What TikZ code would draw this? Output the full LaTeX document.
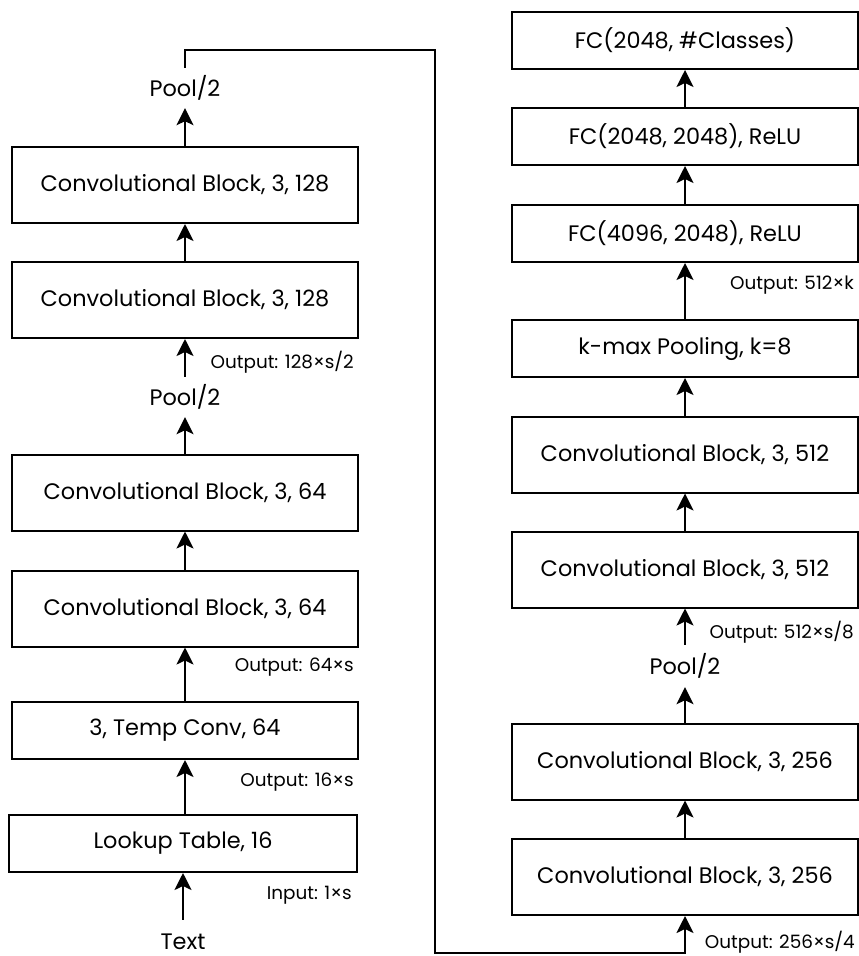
\documentclass[tikz,border=0pt]{standalone}
\usepackage{fontspec}
\setmainfont{Poppins}
\usetikzlibrary{arrows.meta}
\tikzset{
  blk/.style={draw, line width=2pt, minimum width=346pt, inner sep=0pt, font=\fontsize{22.4}{26}\selectfont},
  tall/.style={blk, minimum height=76pt},
  short/.style={blk, minimum height=57pt},
  pool/.style={inner sep=0pt, font=\fontsize{22.4}{26}\selectfont},
  lab/.style={inner sep=0pt, anchor=east, font=\fontsize{18.4}{21}\selectfont},
  arr/.style={line width=2pt, -{Stealth[length=17pt,width=17pt,inset=4pt]}}
}
\begin{document}
\begin{tikzpicture}[x=1pt,y=-1pt]
\useasboundingbox (0,0) rectangle (859,956);
% left column
\node[tall]  (L1) at (185,185)   {Convolutional Block, 3, 128};
\node[tall]  (L2) at (185,300)   {Convolutional Block, 3, 128};
\node[tall]  (L3) at (185,492.5) {Convolutional Block, 3, 64};
\node[tall]  (L4) at (185,608.5) {Convolutional Block, 3, 64};
\node[short] (L5) at (185,730.5) {3, Temp Conv, 64};
\node[short, minimum width=348pt] (L6) at (183,843.5) {Lookup Table, 16};
\node[pool, minimum height=40pt] (P1) at (185,88) {Pool/2};
\node[pool, minimum height=40pt] (P2) at (185,397) {Pool/2};
\node[pool, minimum height=44pt] (T) at (183,942) {Text};
% right column
\node[short] (R1) at (685,40.5)  {FC(2048, \#Classes)};
\node[short] (R2) at (685,136.5) {FC(2048, 2048), ReLU};
\node[short] (R3) at (685,233.5) {FC(4096, 2048), ReLU};
\node[short] (R4) at (685,348.5) {k-max Pooling, k=8};
\node[tall]  (R5) at (685,454.5) {Convolutional Block, 3, 512};
\node[tall]  (R6) at (685,569.5) {Convolutional Block, 3, 512};
\node[pool, minimum height=42pt] (P3) at (685,666) {Pool/2};
\node[tall]  (R7) at (685,761.5) {Convolutional Block, 3, 256};
\node[tall]  (R8) at (685,877)   {Convolutional Block, 3, 256};
% labels
\node[lab] (o1) at (354,362) {Output: 128×s/2};
\node[lab] (o2) at (354,667) {Output: 64×s};
\node[lab] (o3) at (354,782) {Output: 16×s};
\node[lab] (o4) at (352,895) {Input: 1×s};
\node[lab] (o5) at (854,285) {Output: 512×k};
\node[lab] (o6) at (854,632) {Output: 512×s/8};
\node[lab] (o7) at (855,942) {Output: 256×s/4};
% connectors left
\draw[arr] (T.north) -- (L6.south -| T.north);
\draw[arr] (L6.north -| L5.south) -- (L5.south);
\draw[arr] (L5.north) -- (L4.south);
\draw[arr] (L4.north) -- (L3.south);
\draw[arr] (L3.north) -- (P2.south);
\draw[arr] (P2.north) -- (L2.south);
\draw[arr] (L2.north) -- (L1.south);
\draw[arr] (L1.north) -- (P1.south);
% long connector
\coordinate (c1) at (435,50);
\coordinate (c2) at (435,953);
\draw[arr] (P1.north) |- (c1) -- (c2) -| (R8.south);
% right connectors
\draw[arr] (R8.north) -- (R7.south);
\draw[arr] (R7.north) -- (P3.south);
\draw[arr] (P3.north) -- (R6.south);
\draw[arr] (R6.north) -- (R5.south);
\draw[arr] (R5.north) -- (R4.south);
\draw[arr] (R4.north) -- (R3.south);
\draw[arr] (R3.north) -- (R2.south);
\draw[arr] (R2.north) -- (R1.south);
\end{tikzpicture}
\end{document}
